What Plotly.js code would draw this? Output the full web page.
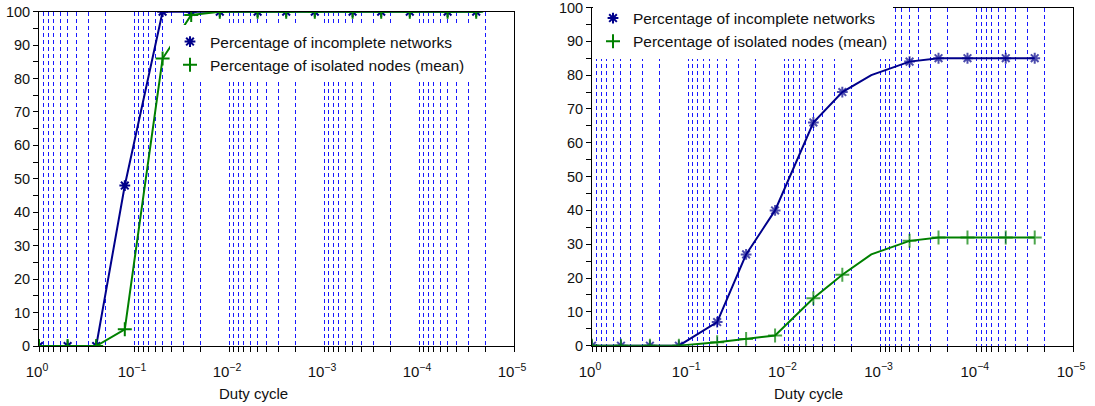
<!DOCTYPE html>
<html>
<head>
<meta charset="utf-8">
<script src="https://cdn.plot.ly/plotly-3.0.1.min.js"></script>
<style>html,body{margin:0;padding:0;background:#fff;}#chart{width:1095px;height:406px;}</style>
</head>
<body>
<div id="chart"></div>
<script>
// Duty cycle values (x)
var dutyCycle = [1, 0.5, 0.25, 0.125, 0.05, 0.025, 0.0125, 0.005, 0.0025, 0.00125, 0.0005, 0.00025, 0.000125, 0.00005, 0.000025];

// Left panel
var leftIncomplete = [0, 0, 0, 48, 100, 100, 100, 100, 100, 100, 100, 100, 100, 100, 100];
var leftIsolated   = [0, 0, 0, 5, 86, 99, 100, 100, 100, 100, 100, 100, 100, 100, 100];

// Right panel
var rightIncomplete = [0, 0, 0, 0, 7, 27, 40, 66, 75, 80, 84, 85, 85, 85, 85];
var rightIsolated   = [0, 0, 0, 0, 1, 2, 3, 14, 21, 27, 31, 32, 32, 32, 32];
var rightMarkerShown = [1, 1, 1, 1, 1, 1, 1, 1, 1, 0, 1, 1, 1, 1, 1];

// Tick labels
var decadeVals = [1, 0.1, 0.01, 0.001, 0.0001, 0.00001];
var decadeLabels = ['10<sup>0</sup>', '10<sup>\u22121</sup>', '10<sup>\u22122</sup>', '10<sup>\u22123</sup>', '10<sup>\u22124</sup>', '10<sup>\u22125</sup>'];
var gridVals = [1, 0.9, 0.8, 0.7, 0.6, 0.5, 0.4, 0.3, 0.2,
  0.1, 0.09, 0.08, 0.07, 0.06, 0.05, 0.04, 0.03, 0.02,
  0.01, 0.009, 0.008, 0.007, 0.006, 0.005, 0.004, 0.003, 0.002,
  0.001, 0.0009, 0.0008, 0.0007, 0.0006, 0.0005, 0.0004, 0.0003, 0.0002,
  0.0001, 0.00009, 0.00008, 0.00007, 0.00006, 0.00005, 0.00004, 0.00003, 0.00002,
  0.00001];
var seriesNames = ['Percentage of incomplete networks', 'Percentage of isolated nodes (mean)'];
var axisTitle = 'Duty cycle';

var gridText = gridVals.map(function (v) {
  var i = decadeVals.indexOf(v);
  return i >= 0 ? decadeLabels[i] : '';
});

var BLUE = '#00008b', GREEN = '#008000';
var FONT = 'Liberation Sans, Arial, Helvetica, sans-serif';

function xAxis(domain, anchor) {
  return {
    domain: domain, anchor: anchor, type: 'log', range: [0, -5],
    tickmode: 'array', tickvals: gridVals, ticktext: gridText, tickangle: 0,
    showgrid: true, gridcolor: 'rgb(25,25,255)', gridwidth: 1, griddash: '4px,3px',
    ticks: 'outside', ticklen: 5, tickcolor: '#000', tickwidth: 1,
    showline: true, linecolor: '#000', linewidth: 1, mirror: true,
    tickfont: {family: FONT, size: 15, color: '#111'},
    ticklabelstandoff: 7, ticklabelshift: 2, ticklabeloverflow: 'allow',
    zeroline: false
  };
}
function yAxis(domain, anchor) {
  return {
    domain: domain, anchor: anchor, range: [0, 100], dtick: 10, tick0: 0,
    ticks: 'outside', ticklen: 5, tickcolor: '#000', tickwidth: 1,
    minor: {dtick: 5, ticks: 'outside', ticklen: 5, tickcolor: '#000', showgrid: false},
    showgrid: false, zeroline: false,
    showline: true, linecolor: '#000', linewidth: 1, mirror: true,
    ticklabeloverflow: 'allow',
    tickfont: {family: FONT, size: 14.5, color: '#111'}
  };
}

var blueMarker = {symbol: 'asterisk-open', size: 9, color: BLUE, line: {color: BLUE, width: 2}};
var greenMarker = {symbol: 'cross-thin-open', size: 10, color: GREEN, line: {color: GREEN, width: 2}};

var traces = [
  {x: dutyCycle, y: leftIncomplete, xaxis: 'x', yaxis: 'y', mode: 'lines+markers',
   line: {color: BLUE, width: 2}, marker: blueMarker, showlegend: false},
  {x: dutyCycle, y: leftIsolated, xaxis: 'x', yaxis: 'y', mode: 'lines+markers',
   line: {color: GREEN, width: 2}, marker: greenMarker, showlegend: false},
  {x: dutyCycle, y: rightIncomplete, xaxis: 'x2', yaxis: 'y2', mode: 'lines+markers',
   line: {color: BLUE, width: 2},
   marker: Object.assign({}, blueMarker, {size: rightMarkerShown.map(function (s) { return s ? 9 : 0; })}),
   showlegend: false},
  {x: dutyCycle, y: rightIsolated, xaxis: 'x2', yaxis: 'y2', mode: 'lines+markers',
   line: {color: GREEN, width: 2},
   marker: Object.assign({}, greenMarker, {size: rightMarkerShown.map(function (s) { return s ? 10 : 0; })}),
   showlegend: false},
  // legend entries (marker only, as in the reference)
  {x: [null], y: [null], xaxis: 'x', yaxis: 'y', mode: 'markers', name: seriesNames[0], marker: blueMarker, legend: 'legend'},
  {x: [null], y: [null], xaxis: 'x', yaxis: 'y', mode: 'markers', name: seriesNames[1], marker: greenMarker, legend: 'legend'},
  {x: [null], y: [null], xaxis: 'x2', yaxis: 'y2', mode: 'markers', name: seriesNames[0], marker: blueMarker, legend: 'legend2'},
  {x: [null], y: [null], xaxis: 'x2', yaxis: 'y2', mode: 'markers', name: seriesNames[1], marker: greenMarker, legend: 'legend2'}
];

var W = 1095, H = 406;
function px(x) { return x / W; }
function py(y) { return (H - y) / H; }

var layout = {
  width: W, height: H,
  margin: {l: 0, r: 0, t: 0, b: 0},
  paper_bgcolor: '#fff', plot_bgcolor: '#fff',
  font: {family: FONT, color: '#111'},
  xaxis: xAxis([px(39), px(514)], 'y'),
  yaxis: yAxis([py(346), py(11.7)], 'x'),
  xaxis2: xAxis([px(592), px(1073)], 'y2'),
  yaxis2: yAxis([py(345.7), py(7.5)], 'x2'),
  legend: {x: px(170), y: py(25), xanchor: 'left', yanchor: 'top', xref: 'paper', yref: 'paper',
           bgcolor: '#fff', borderwidth: 0, font: {family: FONT, size: 15.5, color: '#111'},
           itemwidth: 30, tracegroupgap: 0},
  legend2: {x: px(593), y: py(1.5), xanchor: 'left', yanchor: 'top', xref: 'paper', yref: 'paper',
            bgcolor: '#fff', borderwidth: 0, font: {family: FONT, size: 15.5, color: '#111'},
            itemwidth: 30, tracegroupgap: 0},
  annotations: [
    {text: axisTitle, xref: 'paper', yref: 'paper', x: px(253), y: py(393), xanchor: 'center', yanchor: 'middle',
     showarrow: false, font: {family: FONT, size: 15, color: '#111'}},
    {text: axisTitle, xref: 'paper', yref: 'paper', x: px(808), y: py(393), xanchor: 'center', yanchor: 'middle',
     showarrow: false, font: {family: FONT, size: 15, color: '#111'}}
  ],
  showlegend: true
};

Plotly.newPlot('chart', traces, layout, {displayModeBar: false, staticPlot: true});
</script>
</body>
</html>
